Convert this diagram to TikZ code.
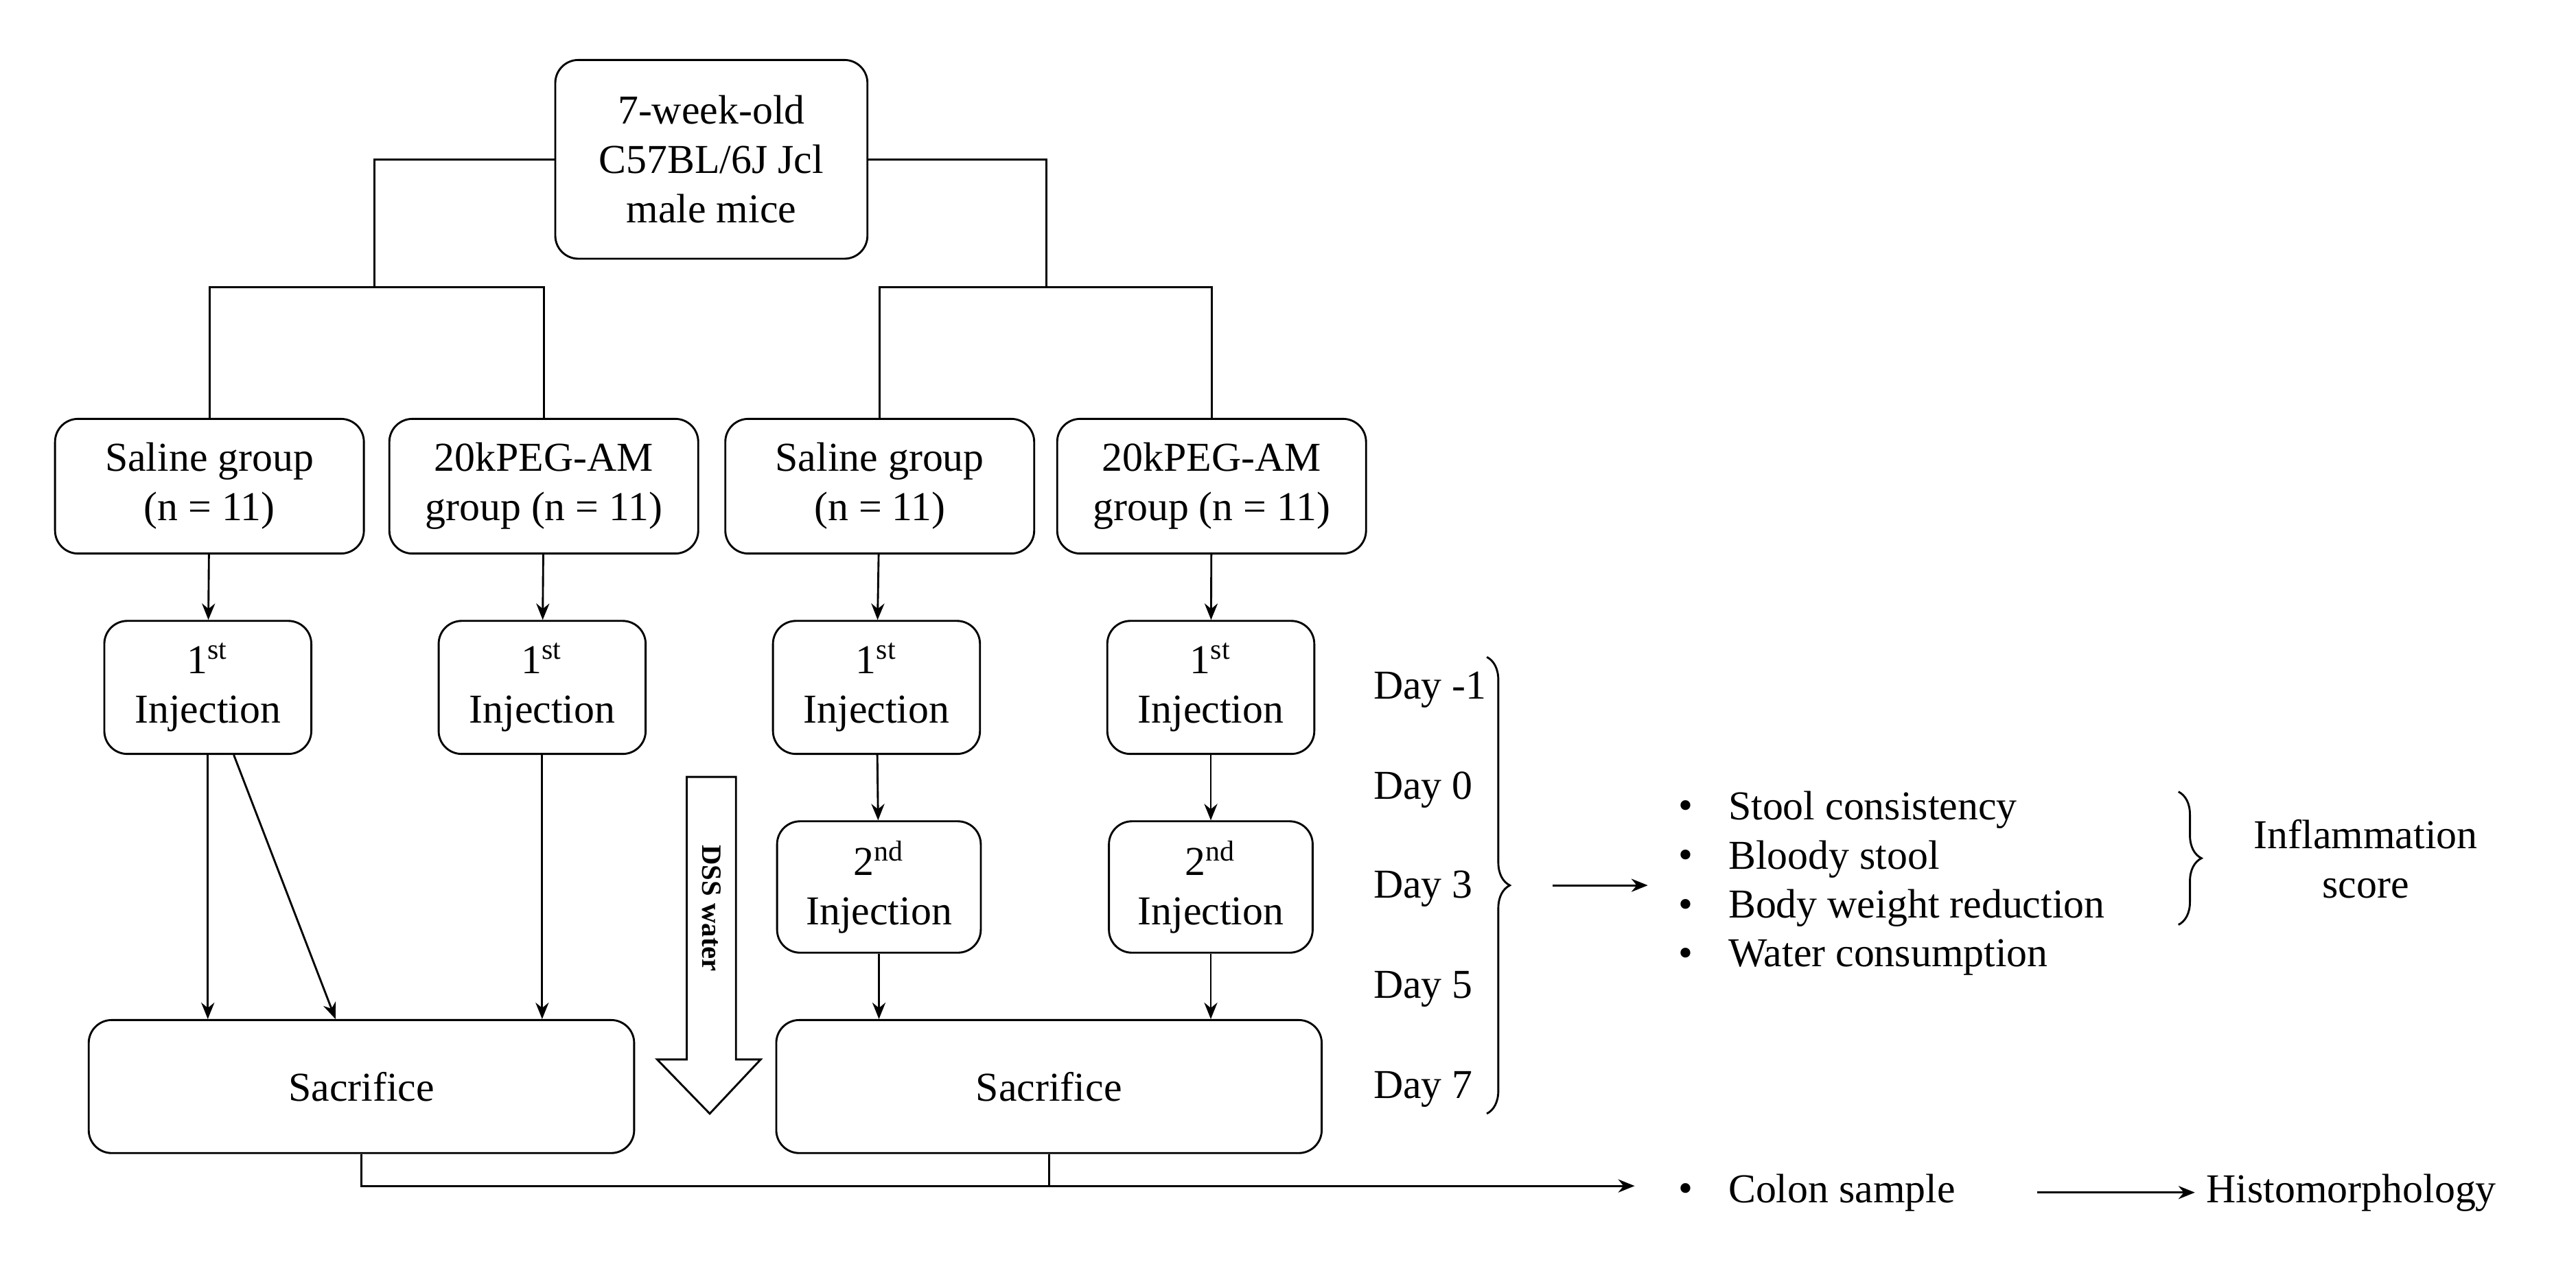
\documentclass[tikz,border=0pt]{standalone}
\usepackage{fontspec}
\setmainfont{Liberation Serif}
\usetikzlibrary{arrows.meta,decorations.pathreplacing}
\begin{document}
\begin{tikzpicture}[x=0.5pt,y=-0.5pt,
  box/.style={draw,rounded corners=7pt,align=center,line width=0.6pt,inner sep=0pt},
  ln/.style={line width=0.6pt},
  arr/.style={ln,-{Stealth[length=5pt,width=4pt]}},
  every node/.append style={font=\fontsize{12.5}{15}\selectfont}]
\useasboundingbox (0,0) rectangle (1568,768);
\node[box,minimum width=95pt,minimum height=60.5pt] (top) at (433,97) {7-week-old\\C57BL/6J Jcl\\male mice};
\foreach \n/\x/\t in {g1/127.5/{Saline group\\(n = 11)},g2/331/{20kPEG-AM\\group (n = 11)},g3/535.5/{Saline group\\(n = 11)},g4/737.5/{20kPEG-AM\\group (n = 11)}}
  \node[box,minimum width=94pt,minimum height=41pt] (\n) at (\x,296) {\t};
\foreach \n/\x in {a1/126.5,a2/330,a3/533.5,a4/737}
  \node[box,minimum width=63pt,minimum height=40.5pt] (\n) at (\x,418.5) {1\textsuperscript{st}\\Injection};
\foreach \n/\x in {b3/535,b4/737}
  \node[box,minimum width=62pt,minimum height=40pt] (\n) at (\x,540) {2\textsuperscript{nd}\\Injection};
\node[box,minimum width=166pt,minimum height=40.5pt] (s1) at (220,661.5) {Sacrifice};
\node[box,minimum width=166pt,minimum height=40.5pt] (s2) at (638.5,661.5) {Sacrifice};
\coordinate (jl) at (228,175);
\coordinate (jr) at (637,175);
\draw[ln] (top.west) -| (jl);
\draw[ln] (top.east) -| (jr);
\draw[ln] (g1.north) |- (jl) -| (g2.north);
\draw[ln] (g3.north) |- (jr) -| (g4.north);
\foreach \a/\b in {g1/a1,g2/a2,g3/a3,g4/a4,a1/s1,a3/b3,a4/b4}
  \draw[arr] (\a) -- (\b);
\draw[arr] (a2.south) -- (a2.south |- s1.north);
\draw[arr] (a1.south) -- (a1.south |- s1.north);
\draw[arr] (b3.south) -- (b3.south |- s2.north);
\draw[arr] (b4.south) -- (b4.south |- s2.north);
% DSS arrow
\draw[ln] (418,473) -- (448,473) -- (448,645) -- (463,645) -- (432,678) -- (400,645) -- (418,645) -- cycle;
\node[rotate=-90,font=\fontsize{8.5}{10}\selectfont\bfseries] (dss) at (433,553) {DSS water};
% days
\foreach \n/\y/\t in {d1/420/Day -1,d2/481/Day 0,d3/541/Day 3,d4/602/Day 5,d5/663/Day 7}
  \node[anchor=west] (\n) at (829,\y) {\t};
\draw[ln,decorate,decoration={brace,amplitude=7pt}] (905,400) -- (905,678);
\coordinate (bt) at (945,539);
\coordinate (bl) at (1003,539);
\draw[arr] (bt) -- (bl);
\foreach \n/\y/\t in {i1/493/Stool consistency,i2/523/Bloody stool,i3/553/Body weight reduction,i4/583/Water consumption}{
  \node (\n b) at (1026,\y) {•};
  \node[anchor=west] (\n) at (1045,\y) {\t};}
\draw[ln,decorate,decoration={brace,amplitude=7pt}] (1326,482) -- (1326,563);
\node[align=center] (inf) at (1440,523) {Inflammation\\score};
% bottom
\coordinate (bj) at (638.5,722);
\coordinate (be) at (995,722);
\draw[ln] (s1.south) |- (bj);
\draw[ln] (s2.south) -- (bj);
\draw[arr] (bj) -- (be);
\node (cb) at (1026,726) {•};
\node[anchor=west] (col) at (1045,726) {Colon sample};
\node[anchor=west] (his) at (1336,726) {Histomorphology};
\draw[arr] (1240,726) -- (his.west);
\end{tikzpicture}
\end{document}
